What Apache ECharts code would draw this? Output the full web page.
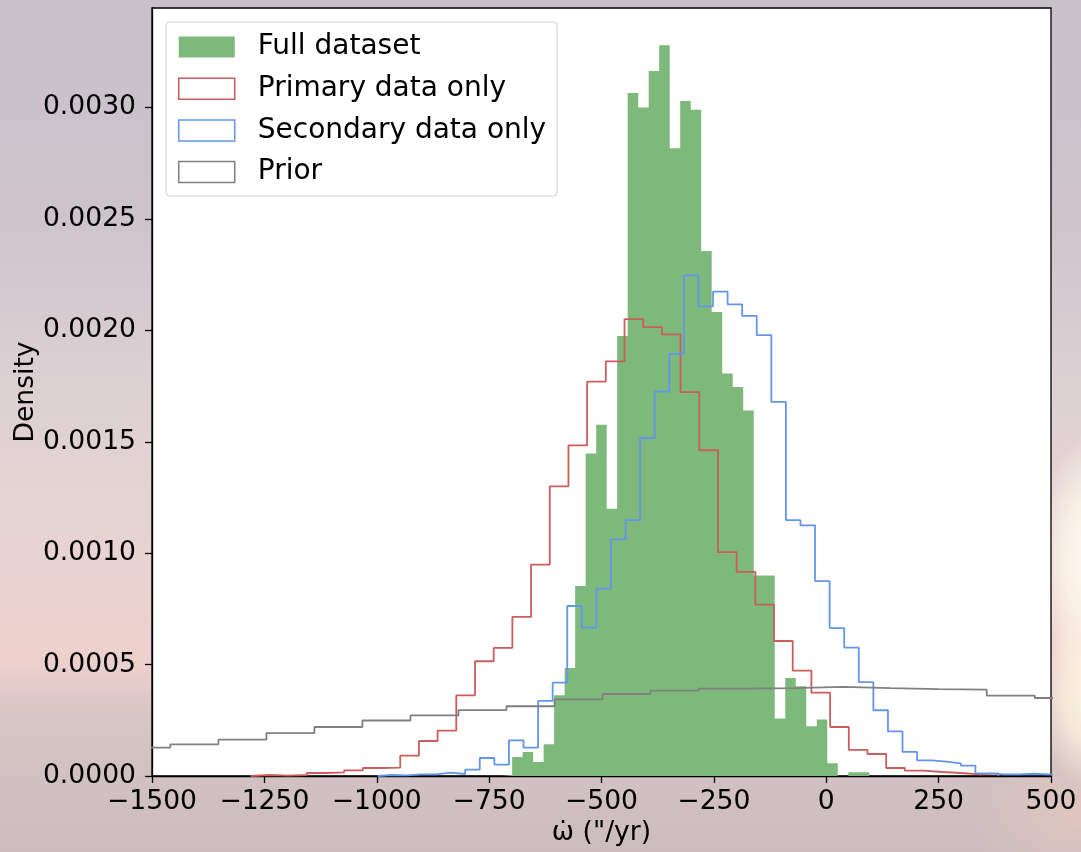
<!DOCTYPE html>
<html>
<head>
<meta charset="utf-8">
<script src="https://cdn.jsdelivr.net/npm/echarts@6/dist/echarts.min.js"></script>
<style>
  html, body { margin: 0; padding: 0; }
  body {
    width: 1081px; height: 852px; overflow: hidden;
    background:
      radial-gradient(ellipse 60px 130px at 1095px 560px, rgba(255,252,242,1) 0%, rgba(255,248,235,0.8) 50%, rgba(255,245,230,0) 100%),
      radial-gradient(ellipse 60px 90px at 1095px 700px, rgba(255,249,225,1) 0%, rgba(255,245,225,0.7) 50%, rgba(255,240,220,0) 100%),
      radial-gradient(ellipse 110px 70px at 1081px 820px, rgba(236,204,190,0.6) 0%, rgba(236,204,190,0) 100%),
      linear-gradient(to bottom, #c8c1ca 0%, #cdc4cb 25%, #dcd0d3 45%, #e6d4d2 62%, #eed1cc 77%, #d8c5c5 84%, #cbbcbe 100%);
  }
  #chart { width: 1081px; height: 852px; }
</style>
</head>
<body>
<div id="chart"></div>
<script>
// ---- Data (densities) ----
const xTicks = [-1500, -1250, -1000, -750, -500, -250, 0, 250, 500];
const yTicks = [0, 0.0005, 0.0010, 0.0015, 0.0020, 0.0025, 0.0030];

// Full dataset (filled histogram)
const fullStart = -722.2;
const fullWidth = 23.37;
const fullValues = [0.000005, 0.0000853, 0.000108, 0.0000628, 0.000142, 0.000362, 0.000485,
  0.000853, 0.001447, 0.001577, 0.0012, 0.001975, 0.003065, 0.003, 0.003164, 0.00328,
  0.002817, 0.00303, 0.00299, 0.002356, 0.002083, 0.001806, 0.001746, 0.00164, 0.0009,
  0.0009, 0.000258, 0.00044, 0.000403, 0.000223, 0.000254, 0.000057, 0, 0.0000166, 0.0000166];

// Primary data only (step)
const primStart = -1280.4;
const primWidth = 41.58;
const primValues = [0.0000045, 0.000002, 0.0000045, 0.0000135, 0.0000166, 0.0000256, 0.0000359,
  0.0000377, 0.0000916, 0.000157, 0.000204, 0.000362, 0.000515, 0.000575, 0.000714, 0.000949,
  0.0013, 0.001484, 0.00177, 0.001861, 0.002051, 0.002015, 0.001982, 0.001723, 0.001462,
  0.001005, 0.000916, 0.000769, 0.000606, 0.000473, 0.000374, 0.00022, 0.000117, 0.0000987,
  0.0000359, 0.0000242, 0.000018, 0.0000135, 0.0000076, 0.000012];

// Secondary data only (step)
const secStart = -997.8;
const secWidth = 32.43;
const secValues = [0.0000045, 0.000003, 0.0000076, 0.0000076, 0.0000153, 0.000009, 0.0000287,
  0.0000808, 0.0000512, 0.00016, 0.000127, 0.000337, 0.000419, 0.000763, 0.000666, 0.000841,
  0.001062, 0.001148, 0.001517, 0.001725, 0.001894, 0.002247, 0.002108, 0.002174, 0.002117,
  0.002065, 0.001979, 0.001679, 0.001148, 0.001125, 0.000875, 0.000664, 0.000576, 0.000421,
  0.000295, 0.0002, 0.000108, 0.0000705, 0.0000646, 0.000057, 0.0000467, 0.000012, 0.0000076,
  0.0000076, 0.00001, 0.0000076, 0.000004];

// Prior (step)
const priorStart = -1566.0;
const priorWidth = 106.83;
const priorValues = [0.0001275, 0.000142, 0.000163, 0.000192, 0.00022, 0.000249, 0.000272,
  0.000296, 0.000313, 0.000344, 0.000368, 0.000383, 0.000392, 0.000394, 0.0004, 0.000394,
  0.00039, 0.000388, 0.000361, 0.00035];

// ---- Helpers ----
function stepOutline(start, width, values) {
  const pts = [[start, 0]];
  values.forEach((v, i) => {
    pts.push([start + i * width, v]);
    pts.push([start + (i + 1) * width, v]);
  });
  pts.push([start + values.length * width, 0]);
  return pts;
}

const FONT = 'DejaVu Sans';
const GREEN = '#7cb97b', RED = '#cd5c5c', BLUE = '#6495ed', GREY = '#808080';

const chart = echarts.init(document.getElementById('chart'), null, { renderer: 'canvas' });
chart.setOption({
  animation: false,
  backgroundColor: 'transparent',
  textStyle: { fontFamily: FONT },
  grid: {
    left: 152, top: 8, width: 899, height: 768,
    containLabel: false, outerBoundsMode: 'none',
    show: true, backgroundColor: '#ffffff', borderColor: '#000', borderWidth: 1.3
  },
  legend: {
    orient: 'vertical', left: 166, top: 22,
    padding: [10, 11, 9, 12],
    itemWidth: 56, itemHeight: 21, itemGap: 11.7,
    backgroundColor: '#ffffff', borderColor: '#d0d0d0', borderWidth: 1, borderRadius: 4,
    textStyle: { fontFamily: FONT, fontSize: 28, color: '#000', lineHeight: 30, padding: [0, 0, 0, 18] },
    selectedMode: false,
    data: [
      { name: 'Full dataset', icon: 'rect', itemStyle: { color: GREEN, borderWidth: 0 }, lineStyle: { width: 0 } },
      { name: 'Primary data only', icon: 'rect', itemStyle: { color: '#fff', borderColor: RED, borderWidth: 1.5 }, lineStyle: { width: 0 } },
      { name: 'Secondary data only', icon: 'rect', itemStyle: { color: '#fff', borderColor: BLUE, borderWidth: 1.5 }, lineStyle: { width: 0 } },
      { name: 'Prior', icon: 'rect', itemStyle: { color: '#fff', borderColor: GREY, borderWidth: 1.5 }, lineStyle: { width: 0 } }
    ]
  },
  xAxis: {
    type: 'value', min: -1500, max: 500, interval: 250,
    name: 'ω\u0307 ("/yr)', nameLocation: 'middle', nameGap: 44, nameMoveOverlap: false,
    nameTextStyle: { fontFamily: FONT, fontSize: 26.6, color: '#000' },
    axisLine: { show: true, onZero: false, lineStyle: { color: '#000', width: 1.3 } },
    axisTick: { show: true, length: 7, lineStyle: { color: '#000', width: 1.3 }, customValues: xTicks },
    axisLabel: {
      fontFamily: FONT, fontSize: 26.6, color: '#000', margin: 13, customValues: xTicks,
      formatter: v => (v < 0 ? '\u2212' + Math.abs(v) : String(v))
    },
    splitLine: { show: false }
  },
  yAxis: {
    type: 'value', min: 0, max: 0.003447,
    name: 'Density', nameLocation: 'middle', nameGap: 112, nameRotate: 90, nameMoveOverlap: false,
    nameTextStyle: { fontFamily: FONT, fontSize: 26.6, color: '#000' },
    axisLine: { show: true, onZero: false, lineStyle: { color: '#000', width: 1.3 } },
    axisTick: { show: true, length: 7, lineStyle: { color: '#000', width: 1.3 }, customValues: yTicks },
    axisLabel: {
      fontFamily: FONT, fontSize: 26.6, color: '#000', margin: 16, customValues: yTicks,
      formatter: v => v.toFixed(4)
    },
    splitLine: { show: false }
  },
  series: [
    {
      name: 'Full dataset', type: 'line', z: 2, symbol: 'none', clip: true,
      color: GREEN,
      lineStyle: { width: 0, opacity: 0 },
      areaStyle: { color: GREEN, opacity: 1 },
      data: stepOutline(fullStart, fullWidth, fullValues)
    },
    {
      name: 'Primary data only', type: 'line', z: 3, symbol: 'none', clip: true,
      color: RED, lineStyle: { color: RED, width: 1.8 },
      data: stepOutline(primStart, primWidth, primValues)
    },
    {
      name: 'Secondary data only', type: 'line', z: 3, symbol: 'none', clip: true,
      color: BLUE, lineStyle: { color: BLUE, width: 1.8 },
      data: stepOutline(secStart, secWidth, secValues)
    },
    {
      name: 'Prior', type: 'line', z: 3, symbol: 'none', clip: true,
      color: GREY, lineStyle: { color: GREY, width: 1.8 },
      data: stepOutline(priorStart, priorWidth, priorValues)
    }
  ]
});
</script>
</body>
</html>
